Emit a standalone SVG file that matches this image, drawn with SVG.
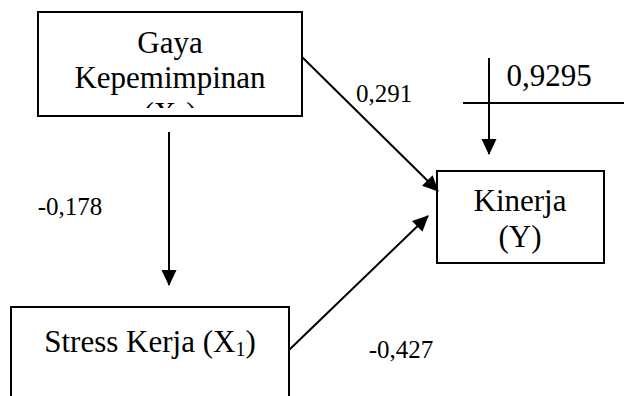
<svg xmlns="http://www.w3.org/2000/svg" width="624" height="396" viewBox="0 0 624 396">
<style>
.box{fill:#fff;stroke:#000;stroke-width:2}
.t{font-family:"Liberation Serif","Times New Roman",serif;fill:#000;text-anchor:middle}
.big{font-size:31px}
.lbl{font-size:25px}
.c{stroke:#000;stroke-width:2;fill:none}
</style>
<defs>
<marker id="ah" markerUnits="userSpaceOnUse" markerWidth="16" markerHeight="16" viewBox="0 0 16 16" refX="15" refY="8" orient="auto">
<path d="M0,0.5 L16,8 L0,15.5 z" fill="#000"/>
</marker>
<clipPath id="clipGaya"><rect x="38" y="12" width="264" height="96"/></clipPath>
</defs>
<g id="gaya">
<rect class="box" x="38" y="12" width="264" height="104"/>
<g clip-path="url(#clipGaya)">
<text class="t big" x="170" y="53">Gaya</text>
<text class="t big" x="170" y="88">Kepemimpinan</text>
<text class="t big" x="170" y="124">(X<tspan font-size="20" dy="4">1</tspan><tspan dy="-4">)</tspan></text>
</g>
</g>
<g id="stress">
<rect class="box" x="11" y="307" width="278" height="110"/>
<text class="t big" x="150" y="352">Stress Kerja (X<tspan font-size="20" dy="4">1</tspan><tspan dy="-4">)</tspan></text>
</g>
<g id="kinerja">
<rect class="box" x="437" y="171" width="167" height="92"/>
<text class="t big" x="520" y="211">Kinerja</text>
<text class="t big" x="520" y="247">(Y)</text>
</g>
<g id="error">
<line class="c" x1="463" y1="103" x2="624" y2="103"/>
<text class="t big" x="549" y="86">0,9295</text>
</g>
<g id="connectors">
<line class="c" x1="302" y1="57" x2="438" y2="191" marker-end="url(#ah)"/>
<line class="c" x1="169" y1="132" x2="169" y2="285" marker-end="url(#ah)"/>
<line class="c" x1="289" y1="350" x2="428" y2="216" marker-end="url(#ah)"/>
<line class="c" x1="489" y1="58" x2="489" y2="154" marker-end="url(#ah)"/>
</g>
<g id="labels">
<text class="t lbl" x="384" y="102">0,291</text>
<text class="t lbl" x="70" y="215">-0,178</text>
<text class="t lbl" x="401" y="358">-0,427</text>
</g>
</svg>
